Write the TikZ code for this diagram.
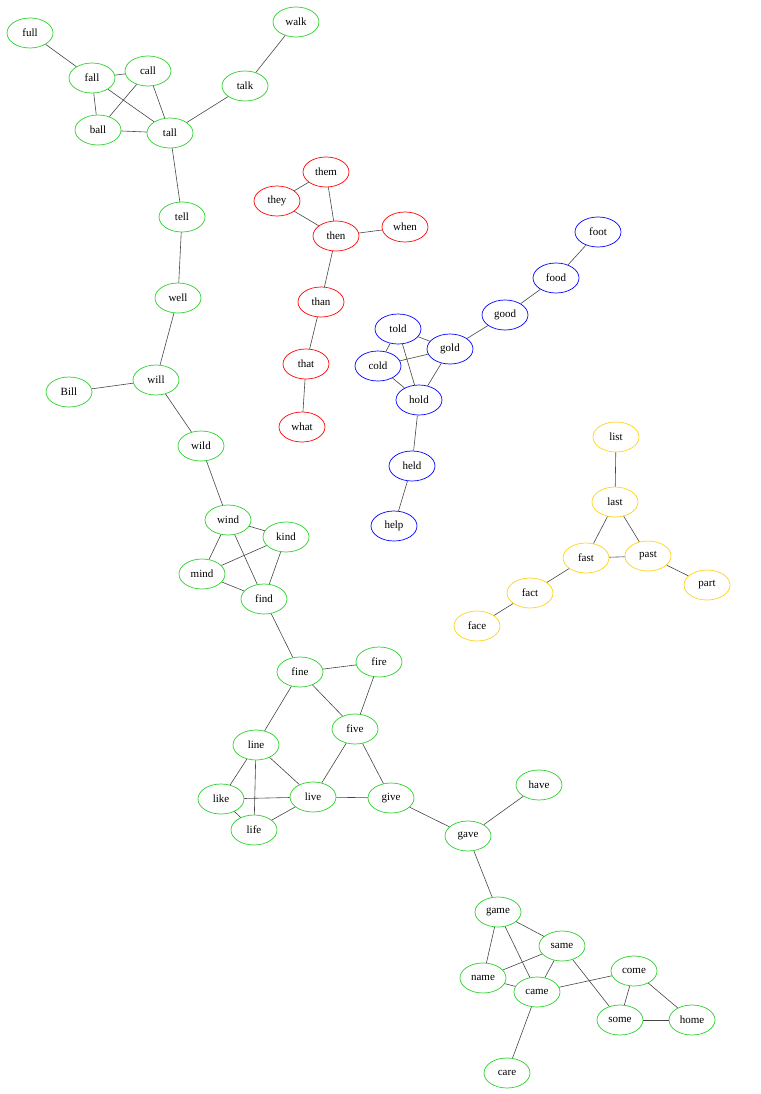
\documentclass[tikz,border=0pt]{standalone}
\usepackage{fontspec}
\setmainfont{Liberation Serif}
\usetikzlibrary{shapes.geometric}
\definecolor{gnode}{RGB}{40,210,40}
\definecolor{rnode}{RGB}{255,0,0}
\definecolor{bnode}{RGB}{0,0,255}
\definecolor{ynode}{RGB}{255,210,20}
\definecolor{edgec}{RGB}{70,70,70}
\tikzset{
  word/.style={ellipse, draw, line width=0.7pt, minimum width=46pt, minimum height=30pt,
    inner sep=0pt, font=\fontsize{11}{12}\selectfont},
  gw/.style={word, draw=gnode},
  rw/.style={word, draw=rnode},
  bw/.style={word, draw=bnode},
  yw/.style={word, draw=ynode},
  link/.style={draw=edgec, line width=0.6pt}
}
\begin{document}
\begin{tikzpicture}[x=1pt, y=-1pt]
\useasboundingbox (0,0) rectangle (760,1094);
% green component
\node[gw] (full) at (30,33) {full};
\node[gw] (fall) at (92,78) {fall};
\node[gw] (call) at (148,71) {call};
\node[gw] (ball) at (98,130) {ball};
\node[gw] (tall) at (170,133) {tall};
\node[gw] (talk) at (245,86) {talk};
\node[gw] (walk) at (296,22) {walk};
\node[gw] (tell) at (182,217) {tell};
\node[gw] (well) at (178,298) {well};
\node[gw] (will) at (156,380) {will};
\node[gw] (Bill) at (69,392) {Bill};
\node[gw] (wild) at (201,446) {wild};
\node[gw] (wind) at (228,520) {wind};
\node[gw] (kind) at (286,537) {kind};
\node[gw] (mind) at (202,574) {mind};
\node[gw] (find) at (264,599) {find};
\node[gw] (fine) at (300,672) {fine};
\node[gw] (fire) at (379,662) {fire};
\node[gw] (five) at (355,729) {five};
\node[gw] (line) at (256,745) {line};
\node[gw] (like) at (221,799) {like};
\node[gw] (live) at (313,797) {live};
\node[gw] (give) at (391,798) {give};
\node[gw] (life) at (254,830) {life};
\node[gw] (gave) at (468,836) {gave};
\node[gw] (have) at (539,785) {have};
\node[gw] (game) at (498,912) {game};
\node[gw] (same) at (562,946) {same};
\node[gw] (name) at (483,978) {name};
\node[gw] (came) at (537,992) {came};
\node[gw] (come) at (634,971) {come};
\node[gw] (some) at (620,1020) {some};
\node[gw] (home) at (692,1020) {home};
\node[gw] (care) at (507,1073) {care};
% red component
\node[rw] (them) at (326,172) {them};
\node[rw] (they) at (277,201) {they};
\node[rw] (then) at (336,236) {then};
\node[rw] (when) at (405,227) {when};
\node[rw] (than) at (321,302) {than};
\node[rw] (that) at (306,364) {that};
\node[rw] (what) at (302,427) {what};
% blue component
\node[bw] (foot) at (598,232) {foot};
\node[bw] (food) at (556,278) {food};
\node[bw] (good) at (505,315) {good};
\node[bw] (told) at (398,329) {told};
\node[bw] (gold) at (450,349) {gold};
\node[bw] (cold) at (378,366) {cold};
\node[bw] (hold) at (419,400) {hold};
\node[bw] (held) at (412,466) {held};
\node[bw] (help) at (394,526) {help};
% yellow component
\node[yw] (list) at (616,437) {list};
\node[yw] (last) at (615,502) {last};
\node[yw] (fast) at (586,558) {fast};
\node[yw] (past) at (648,556) {past};
\node[yw] (part) at (707,585) {part};
\node[yw] (fact) at (530,593) {fact};
\node[yw] (face) at (477,626) {face};
% edges
\foreach \a/\b in {full/fall, fall/call, fall/ball, fall/tall, call/ball, call/tall, ball/tall,
  tall/talk, talk/walk, tall/tell, tell/well, well/will, will/Bill, will/wild, wild/wind,
  wind/kind, wind/mind, wind/find, kind/mind, kind/find, mind/find, find/fine, fine/fire,
  fine/five, fine/line, fire/five, five/live, five/give, line/like, line/life, line/live,
  like/live, like/life, live/life, live/give, give/gave, gave/have, gave/game, game/same,
  game/name, game/came, same/name, same/came, same/some, name/came, came/come, came/care,
  come/some, come/home, some/home,
  them/they, them/then, they/then, then/when, then/than, than/that, that/what,
  foot/food, food/good, good/gold, told/gold, told/cold, told/hold, cold/gold, cold/hold,
  gold/hold, hold/held, held/help,
  list/last, last/fast, last/past, fast/past, past/part, fast/fact, fact/face}
  \draw[link] (\a) -- (\b);
\end{tikzpicture}
\end{document}
